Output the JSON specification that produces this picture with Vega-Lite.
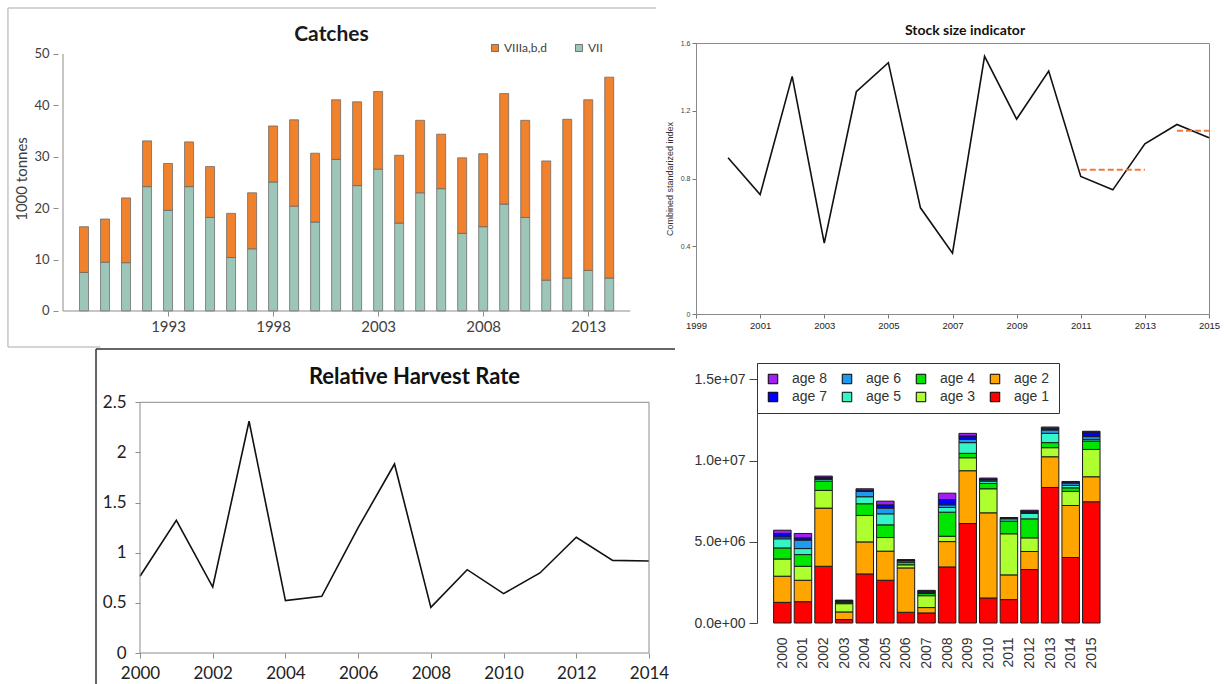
{
  "$schema": "https://vega.github.io/schema/vega-lite/v6.json",
  "background": "white",
  "padding": {"left": 7, "top": 7, "right": 0, "bottom": 0},
  "columns": 2,
  "align": "each",
  "bounds": "flush",
  "spacing": {"row": 49, "column": 47},
  "resolve": {"scale": {"color": "independent"}, "legend": {"color": "independent"}},
  "config": {
    "font": "Lato",
    "view": {"stroke": null},
    "axis": {"grid": false, "labelFlush": false}
  },
  "datasets": {
    "catches": [
      {"year": 1989, "VII": 7.5, "VIIIa,b,d": 8.9},
      {"year": 1990, "VII": 9.5, "VIIIa,b,d": 8.4},
      {"year": 1991, "VII": 9.4, "VIIIa,b,d": 12.6},
      {"year": 1992, "VII": 24.2, "VIIIa,b,d": 8.9},
      {"year": 1993, "VII": 19.6, "VIIIa,b,d": 9.1},
      {"year": 1994, "VII": 24.2, "VIIIa,b,d": 8.7},
      {"year": 1995, "VII": 18.2, "VIIIa,b,d": 9.9},
      {"year": 1996, "VII": 10.4, "VIIIa,b,d": 8.6},
      {"year": 1997, "VII": 12.1, "VIIIa,b,d": 10.9},
      {"year": 1998, "VII": 25.1, "VIIIa,b,d": 10.9},
      {"year": 1999, "VII": 20.4, "VIIIa,b,d": 16.8},
      {"year": 2000, "VII": 17.3, "VIIIa,b,d": 13.4},
      {"year": 2001, "VII": 29.5, "VIIIa,b,d": 11.6},
      {"year": 2002, "VII": 24.4, "VIIIa,b,d": 16.3},
      {"year": 2003, "VII": 27.6, "VIIIa,b,d": 15.1},
      {"year": 2004, "VII": 17.1, "VIIIa,b,d": 13.2},
      {"year": 2005, "VII": 23.0, "VIIIa,b,d": 14.1},
      {"year": 2006, "VII": 23.8, "VIIIa,b,d": 10.6},
      {"year": 2007, "VII": 15.1, "VIIIa,b,d": 14.7},
      {"year": 2008, "VII": 16.4, "VIIIa,b,d": 14.2},
      {"year": 2009, "VII": 20.8, "VIIIa,b,d": 21.5},
      {"year": 2010, "VII": 18.2, "VIIIa,b,d": 18.9},
      {"year": 2011, "VII": 6.0, "VIIIa,b,d": 23.2},
      {"year": 2012, "VII": 6.4, "VIIIa,b,d": 30.9},
      {"year": 2013, "VII": 7.9, "VIIIa,b,d": 33.2},
      {"year": 2014, "VII": 6.4, "VIIIa,b,d": 39.1}
    ],
    "stock": [
      {"year": 2000, "index": 0.922},
      {"year": 2001, "index": 0.705},
      {"year": 2002, "index": 1.403},
      {"year": 2003, "index": 0.418},
      {"year": 2004, "index": 1.312},
      {"year": 2005, "index": 1.484},
      {"year": 2006, "index": 0.627},
      {"year": 2007, "index": 0.359},
      {"year": 2008, "index": 1.521},
      {"year": 2009, "index": 1.151},
      {"year": 2010, "index": 1.434},
      {"year": 2011, "index": 0.812},
      {"year": 2012, "index": 0.733},
      {"year": 2013, "index": 1.005},
      {"year": 2014, "index": 1.119},
      {"year": 2015, "index": 1.04}
    ],
    "stockref": [
      {"period": "2011-2013", "year": 2011, "level": 0.851},
      {"period": "2011-2013", "year": 2013, "level": 0.851},
      {"period": "2014-2015", "year": 2014, "level": 1.082},
      {"period": "2014-2015", "year": 2015, "level": 1.082}
    ],
    "harvest": [
      {"year": 2000, "rate": 0.765},
      {"year": 2001, "rate": 1.323},
      {"year": 2002, "rate": 0.658},
      {"year": 2003, "rate": 2.311},
      {"year": 2004, "rate": 0.522},
      {"year": 2005, "rate": 0.565},
      {"year": 2006, "rate": 1.25},
      {"year": 2007, "rate": 1.885},
      {"year": 2008, "rate": 0.455},
      {"year": 2009, "rate": 0.831},
      {"year": 2010, "rate": 0.592},
      {"year": 2011, "rate": 0.798},
      {"year": 2012, "rate": 1.154},
      {"year": 2013, "rate": 0.924},
      {"year": 2014, "rate": 0.918}
    ],
    "ages": [
      {"year": 2000, "age 1": 1270000, "age 2": 1610000, "age 3": 1060000, "age 4": 680000, "age 5": 560000, "age 6": 120000, "age 7": 210000, "age 8": 200000},
      {"year": 2001, "age 1": 1310000, "age 2": 1320000, "age 3": 860000, "age 4": 720000, "age 5": 370000, "age 6": 520000, "age 7": 140000, "age 8": 270000},
      {"year": 2002, "age 1": 3490000, "age 2": 3580000, "age 3": 1090000, "age 4": 570000, "age 5": 110000, "age 6": 60000, "age 7": 60000, "age 8": 80000},
      {"year": 2003, "age 1": 210000, "age 2": 470000, "age 3": 510000, "age 4": 80000, "age 5": 70000, "age 6": 30000, "age 7": 20000, "age 8": 10000},
      {"year": 2004, "age 1": 3020000, "age 2": 1970000, "age 3": 1630000, "age 4": 720000, "age 5": 430000, "age 6": 330000, "age 7": 80000, "age 8": 80000},
      {"year": 2005, "age 1": 2630000, "age 2": 1790000, "age 3": 840000, "age 4": 780000, "age 5": 680000, "age 6": 350000, "age 7": 200000, "age 8": 230000},
      {"year": 2006, "age 1": 660000, "age 2": 2730000, "age 3": 190000, "age 4": 160000, "age 5": 80000, "age 6": 30000, "age 7": 30000, "age 8": 20000},
      {"year": 2007, "age 1": 620000, "age 2": 330000, "age 3": 730000, "age 4": 130000, "age 5": 40000, "age 6": 50000, "age 7": 60000, "age 8": 50000},
      {"year": 2008, "age 1": 3450000, "age 2": 1560000, "age 3": 330000, "age 4": 1480000, "age 5": 290000, "age 6": 160000, "age 7": 330000, "age 8": 390000},
      {"year": 2009, "age 1": 6120000, "age 2": 3250000, "age 3": 800000, "age 4": 270000, "age 5": 660000, "age 6": 200000, "age 7": 210000, "age 8": 160000},
      {"year": 2010, "age 1": 1540000, "age 2": 5240000, "age 3": 1480000, "age 4": 330000, "age 5": 140000, "age 6": 70000, "age 7": 60000, "age 8": 60000},
      {"year": 2011, "age 1": 1440000, "age 2": 1520000, "age 3": 2530000, "age 4": 780000, "age 5": 140000, "age 6": 30000, "age 7": 30000, "age 8": 20000},
      {"year": 2012, "age 1": 3290000, "age 2": 1110000, "age 3": 840000, "age 4": 1170000, "age 5": 330000, "age 6": 70000, "age 7": 70000, "age 8": 60000},
      {"year": 2013, "age 1": 8340000, "age 2": 1890000, "age 3": 560000, "age 4": 310000, "age 5": 570000, "age 6": 210000, "age 7": 100000, "age 8": 80000},
      {"year": 2014, "age 1": 4030000, "age 2": 3200000, "age 3": 870000, "age 4": 220000, "age 5": 150000, "age 6": 140000, "age 7": 60000, "age 8": 40000},
      {"year": 2015, "age 1": 7460000, "age 2": 1540000, "age 3": 1680000, "age 4": 520000, "age 5": 100000, "age 6": 170000, "age 7": 280000, "age 8": 50000}
    ]
  },
  "concat": [
    {
      "width": 591,
      "height": 271,
      "layer": [
        {
          "data": {"name": "catches"},
          "transform": [{"fold": ["VII", "VIIIa,b,d"], "as": ["area", "value"]}],
          "mark": {"type": "bar", "size": 9, "stroke": "#606060", "strokeWidth": 0.7},
          "encoding": {
            "x": {"field": "year", "type": "quantitative", "scale": {"domain": [1988, 2015.655], "nice": false, "zero": false},
              "axis": {"values": [1993, 1998, 2003, 2008, 2013], "format": "d", "title": null, "domain": false, "offset": -3, "labelFont": "Lato", "labelFontSize": 15, "labelColor": "#404040", "tickSize": 5, "tickColor": "#8c8c8c", "labelPadding": 3}},
            "y": {"field": "value", "type": "quantitative", "stack": "zero", "scale": {"domain": [-0.584, 52.14], "nice": false, "zero": false},
              "axis": {"values": [0, 5, 10, 15, 20, 25, 30, 35, 40, 45, 50], "domain": false, "tickSize": 5, "tickColor": "#8c8c8c", "labelFont": "Lato", "labelFontSize": 13, "labelColor": "#404040", "labelPadding": 4, "title": "1000 tonnes", "titleFont": "Lato", "titleFontSize": 15, "titleFontWeight": "normal", "titleColor": "#404040", "titlePadding": 4}},
            "color": {"field": "area", "type": "nominal", "scale": {"domain": ["VIIIa,b,d", "VII"], "range": ["#F0812D", "#9DC6B8"]},
              "legend": {"orient": "none", "legendX": 431, "legendY": -1, "direction": "horizontal", "title": null, "symbolType": "square", "symbolSize": 50, "symbolStrokeColor": "#555555", "symbolStrokeWidth": 0.8, "labelFont": "Lato", "labelFontSize": 12, "labelColor": "#404040", "columnPadding": 26, "labelOffset": 3, "padding": 0}},
            "order": {"field": "area", "type": "ordinal"}
          }
        },
        {
          "data": {"values": [{}]},
          "mark": {"type": "rule", "color": "#8c8c8c"},
          "encoding": {"x": {"datum": 1988, "type": "quantitative"}, "y": {"datum": 0, "type": "quantitative"}, "y2": {"datum": 50}}
        },
        {
          "data": {"values": [{}]},
          "mark": {"type": "rule", "color": "#8c8c8c"},
          "encoding": {"x": {"datum": 1988, "type": "quantitative"}, "x2": {"datum": 2015}, "y": {"datum": 0, "type": "quantitative"}}
        },
        {
          "data": {"values": [{}]},
          "mark": {"type": "rule", "color": "#c6c6c6", "strokeWidth": 1.5},
          "encoding": {"x": {"datum": 1985.38, "type": "quantitative"}, "x2": {"datum": 2016.22}, "y": {"datum": 58.95, "type": "quantitative"}}
        },
        {
          "data": {"values": [{}]},
          "mark": {"type": "rule", "color": "#c6c6c6", "strokeWidth": 1.5},
          "encoding": {"x": {"datum": 1985.38, "type": "quantitative"}, "y": {"datum": -7.0, "type": "quantitative"}, "y2": {"datum": 58.95}}
        },
        {
          "data": {"values": [{}]},
          "mark": {"type": "rule", "color": "#c6c6c6", "strokeWidth": 1.5},
          "encoding": {"x": {"datum": 1985.38, "type": "quantitative"}, "x2": {"datum": 1989.78}, "y": {"datum": -7.0, "type": "quantitative"}}
        },
        {
          "data": {"values": [{}]},
          "mark": {"type": "text", "text": "Catches", "font": "Lato", "fontSize": 21, "fontWeight": "bold", "color": "#1a1a1a", "align": "center", "baseline": "alphabetic"},
          "encoding": {"x": {"datum": 2000.78, "type": "quantitative"}, "y": {"datum": 52.53, "type": "quantitative"}}
        }
      ]
    },
    {
      "width": 513,
      "height": 271,
      "view": {"stroke": "#8a8a8a"},
      "layer": [
        {
          "data": {"name": "stock"},
          "mark": {"type": "line", "color": "#111111", "strokeWidth": 1.6},
          "encoding": {
            "x": {"field": "year", "type": "quantitative", "scale": {"domain": [1999, 2015], "nice": false, "zero": false},
              "axis": {"values": [1999, 2001, 2003, 2005, 2007, 2009, 2011, 2013, 2015], "format": "d", "title": null, "labelFont": "Liberation Sans", "labelFontSize": 9.5, "labelColor": "#222222", "tickSize": 4, "tickColor": "#777777", "domainColor": "#8a8a8a", "labelPadding": 2}},
            "y": {"field": "index", "type": "quantitative", "scale": {"domain": [0, 1.6], "nice": false},
              "axis": {"values": [0, 0.2, 0.4, 0.6, 0.8, 1, 1.2, 1.4, 1.6], "format": "~g", "labelFont": "Liberation Sans", "labelFontSize": 7, "labelColor": "#444444", "tickSize": 4, "tickColor": "#777777", "domainColor": "#8a8a8a", "labelPadding": 2, "title": "Combined standarized index", "titleFont": "Liberation Sans", "titleFontSize": 9, "titleFontWeight": "normal", "titleColor": "#333333", "titlePadding": 6}}
          }
        },
        {
          "data": {"name": "stockref"},
          "mark": {"type": "line", "color": "#F0783A", "strokeWidth": 2, "strokeDash": [6, 3]},
          "encoding": {
            "x": {"field": "year", "type": "quantitative"},
            "y": {"field": "level", "type": "quantitative"},
            "detail": {"field": "period", "type": "nominal"}
          }
        },
        {
          "data": {"values": [{}]},
          "mark": {"type": "text", "text": "Stock size indicator", "font": "Lato", "fontSize": 14, "fontWeight": "bold", "color": "#111111", "align": "center", "baseline": "alphabetic"},
          "encoding": {"x": {"datum": 2007.39, "type": "quantitative"}, "y": {"datum": 1.647, "type": "quantitative"}}
        }
      ]
    },
    {
      "width": 591,
      "height": 290,
      "layer": [
        {
          "data": {"name": "harvest"},
          "mark": {"type": "line", "color": "#111111", "strokeWidth": 1.6},
          "encoding": {
            "x": {"field": "year", "type": "quantitative", "scale": {"domain": [1997.7446, 2014], "nice": false, "zero": false},
              "axis": {"values": [2000, 2002, 2004, 2006, 2008, 2010, 2012, 2014], "format": "d", "domain": false, "title": null, "labelFont": "Lato", "labelFontSize": 17, "labelColor": "#222222", "tickSize": 5, "tickColor": "#8c8c8c", "labelPadding": 7}},
            "y": {"field": "rate", "type": "quantitative", "scale": {"domain": [0, 2.892], "nice": false},
              "axis": {"values": [0, 0.5, 1, 1.5, 2, 2.5], "format": "~g", "offset": -82, "domain": false, "title": null, "labelFont": "Lato", "labelFontSize": 17, "labelColor": "#222222", "tickSize": 5, "tickColor": "#8c8c8c", "labelPadding": 9}}
          }
        },
        {
          "data": {"values": [{}]},
          "mark": {"type": "rect", "filled": false, "color": "#8c8c8c", "strokeWidth": 1},
          "encoding": {"x": {"datum": 2000, "type": "quantitative"}, "x2": {"datum": 2014}, "y": {"datum": 0, "type": "quantitative"}, "y2": {"datum": 2.5}}
        },
        {
          "data": {"values": [{}]},
          "mark": {"type": "rule", "color": "#333333", "strokeWidth": 1.5},
          "encoding": {"x": {"datum": 1998.79, "type": "quantitative"}, "x2": {"datum": 2014.715}, "y": {"datum": 3.031, "type": "quantitative"}}
        },
        {
          "data": {"values": [{}]},
          "mark": {"type": "rule", "color": "#333333", "strokeWidth": 1.5},
          "encoding": {"x": {"datum": 1998.79, "type": "quantitative"}, "y": {"datum": -0.5, "type": "quantitative"}, "y2": {"datum": 3.031}}
        },
        {
          "data": {"values": [{}]},
          "mark": {"type": "text", "text": "Relative Harvest Rate", "font": "Lato", "fontSize": 22, "fontWeight": "bold", "color": "#111111", "align": "center", "baseline": "alphabetic"},
          "encoding": {"x": {"datum": 2007.55, "type": "quantitative"}, "y": {"datum": 2.683, "type": "quantitative"}}
        }
      ]
    },
    {
      "width": 482,
      "height": 260,
      "data": {"name": "ages"},
      "transform": [{"fold": ["age 1", "age 2", "age 3", "age 4", "age 5", "age 6", "age 7", "age 8"], "as": ["age", "n"]}],
      "mark": {"type": "bar", "size": 17.5, "stroke": "#1a1a1a", "strokeWidth": 1},
      "encoding": {
        "x": {"field": "year", "type": "quantitative", "scale": {"domain": [1996.049, 2018.968], "nice": false, "zero": false},
          "axis": {"values": [2000, 2001, 2002, 2003, 2004, 2005, 2006, 2007, 2008, 2009, 2010, 2011, 2012, 2013, 2014, 2015], "format": "d", "labelAngle": 270, "ticks": false, "domain": false, "title": null, "labelFont": "Liberation Sans", "labelFontSize": 14, "labelColor": "#333333", "labelPadding": 14, "labelOverlap": false}},
        "y": {"field": "n", "type": "quantitative", "stack": "zero", "scale": {"domain": [0, 16000000], "nice": false},
          "axis": {"values": [0, 5000000, 10000000, 15000000], "labelExpr": "datum.value == 0 ? '0.0e+00' : datum.value == 5000000 ? '5.0e+06' : datum.value == 10000000 ? '1.0e+07' : '1.5e+07'", "offset": -61, "title": null, "domainColor": "#444444", "tickColor": "#444444", "tickSize": 8, "labelFont": "Liberation Sans", "labelFontSize": 14, "labelColor": "#333333", "labelPadding": 4}},
        "color": {"field": "age", "type": "nominal",
          "scale": {"domain": ["age 8", "age 7", "age 6", "age 5", "age 4", "age 3", "age 2", "age 1"], "range": ["#A020F0", "#0000FF", "#1E9BF0", "#33F5C8", "#00E600", "#ADFF2F", "#FFA500", "#FF0000"]},
          "legend": {"orient": "none", "legendX": 61, "legendY": 0, "title": null, "columns": 4, "padding": 9, "strokeColor": "#333333", "fillColor": "#ffffff", "symbolType": "square", "symbolSize": 90, "symbolStrokeColor": "#000000", "symbolStrokeWidth": 1, "labelFont": "Liberation Sans", "labelFontSize": 14, "labelColor": "#333333", "labelOffset": 12, "columnPadding": 12, "rowPadding": 4}},
        "order": {"field": "age", "type": "ordinal"}
      }
    }
  ]
}
